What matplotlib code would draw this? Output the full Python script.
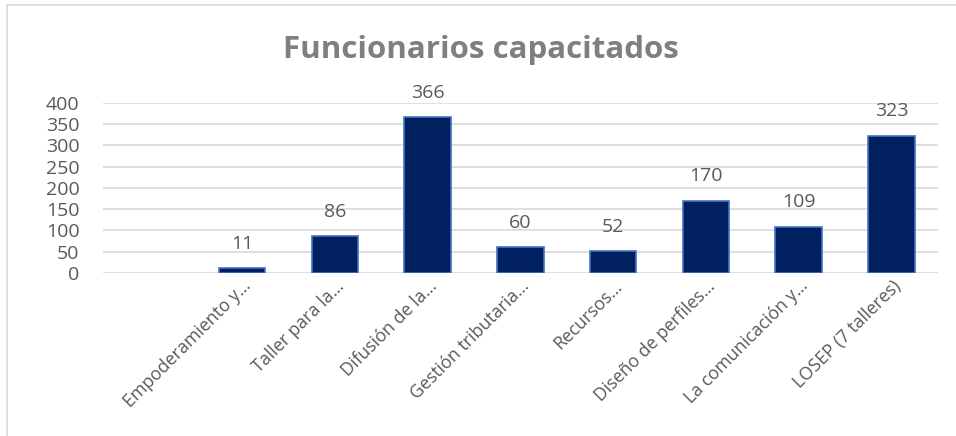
import numpy as np
import matplotlib
matplotlib.use('Agg')
import matplotlib.pyplot as plt
from matplotlib.patches import Rectangle

# chart data
categories = ['', 'Empoderamiento y…', 'Taller para la…', 'Difusión de la…',
              'Gestión tributaria…', 'Recursos…', 'Diseño de perfiles…',
              'La comunicación y…', 'LOSEP (7 talleres)']
values = [np.nan, 11, 86, 366, 60, 52, 170, 109, 323]
yticks = [0, 50, 100, 150, 200, 250, 300, 350, 400]

plt.rcParams['font.family'] = ['Open Sans', 'DejaVu Sans']

fig = plt.figure(figsize=(9.56, 4.36), dpi=100)
ax = fig.add_axes([0.1077, 0.374, 0.8733, 0.390])

# outer chart border (cropped on right/bottom)
fig.patches.append(Rectangle((7/956, -0.1), 1.2, 1 - 5/436 + 0.1, transform=fig.transFigure,
                             fill=False, ec='#d9d9d9', lw=1.2))

x = np.arange(len(categories))
ax.bar(x, values, width=0.5, color='#002060', edgecolor='#4472c4', lw=1.2, zorder=3)

# data labels
for xi, v in zip(x, values):
    if np.isnan(v):
        continue
    ax.annotate('%d' % v, xy=(xi, v), xytext=(0, 11), textcoords='offset points',
                ha='center', va='bottom', fontsize=14, color='#595959')

ax.set_xlim(-0.5, len(categories) - 0.5)
ax.set_ylim(0, 400)
ax.set_yticks(yticks)
ax.yaxis.grid(True, color='#d9d9d9', lw=1.2, zorder=0)
ax.set_axisbelow(True)
for s in ax.spines.values():
    s.set_visible(False)
ax.tick_params(axis='both', length=0)
ax.tick_params(axis='y', labelsize=14, labelcolor='#595959', pad=17)

ax.set_xticks(x)
ax.set_xticklabels(categories, rotation=45, ha='right', rotation_mode='anchor',
                   fontsize=12.8, color='#595959')
ax.tick_params(axis='x', pad=3)

fig.text(0.503, 0.885, 'Funcionarios capacitados', ha='center', va='center',
         fontsize=22.5, fontweight='bold', color='#7f7f7f')

fig.savefig('out.png', dpi=100)
